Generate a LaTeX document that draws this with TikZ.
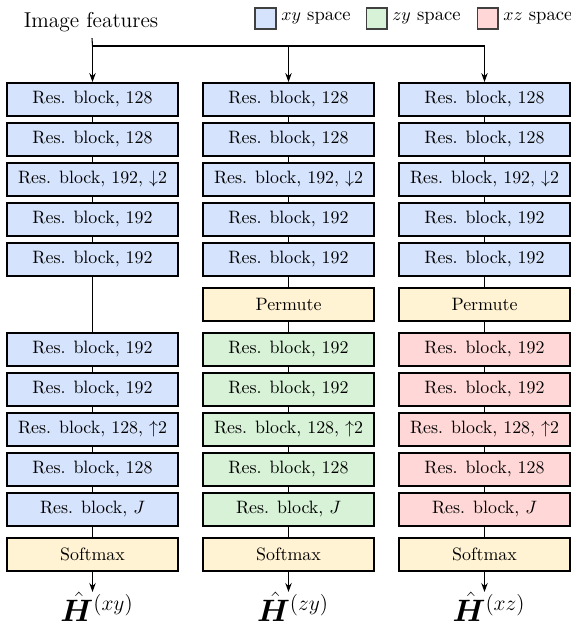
\documentclass[tikz,border=0pt]{standalone}
\usepackage{bm}
\usetikzlibrary{arrows.meta}
\definecolor{cxy}{HTML}{D5E3FC}
\definecolor{czy}{HTML}{D7F2D7}
\definecolor{cxz}{HTML}{FFD7D7}
\definecolor{cop}{HTML}{FFF3D3}
\begin{document}
\begin{tikzpicture}[x=0.5587pt,y=-0.5587pt,
  blk/.style={draw=black, line width=1.1pt, minimum width=95.5pt, minimum height=18.4pt, inner sep=0pt, font=\normalsize},
  xyb/.style={blk, fill=cxy},
  zyb/.style={blk, fill=czy},
  xzb/.style={blk, fill=cxz},
  opb/.style={blk, fill=cop},
  lgd/.style={draw=black!75, line width=0.6pt, minimum width=11.7pt, minimum height=11.7pt, inner sep=0pt},
  lgt/.style={anchor=west, font=\fontsize{10.4}{12}\selectfont, inner sep=0pt},
  outl/.style={font=\LARGE, inner sep=0pt},
  conn/.style={line width=0.6pt},
  arr/.style={line width=0.6pt, -{Stealth[length=5pt,width=3.6pt]}}]
\useasboundingbox (0,0) rectangle (570,628);

% title and legend
\node[font=\large] (img) at (91,22) {Image features};
\node[lgd, fill=cxy] (l1) at (265.5,18.5) {};
\node[lgt] (t1) at (281,18.5) {$xy$ space};
\node[lgd, fill=czy] (l2) at (376.5,18.5) {};
\node[lgt] (t2) at (392,18.5) {$zy$ space};
\node[lgd, fill=cxz] (l3) at (487.5,18.5) {};
\node[lgt] (t3) at (503,18.5) {$xz$ space};

% column 1
\node[xyb] (a1) at (92.5,99.5) {Res. block, 128};
\node[xyb] (a2) at (92.5,139.5) {Res. block, 128};
\node[xyb] (a3) at (92.5,179.5) {Res. block, 192, $\downarrow$2};
\node[xyb] (a4) at (92.5,219.5) {Res. block, 192};
\node[xyb] (a5) at (92.5,259.5) {Res. block, 192};
\node[xyb] (a7) at (92.5,349.5) {Res. block, 192};
\node[xyb] (a8) at (92.5,389.5) {Res. block, 192};
\node[xyb] (a9) at (92.5,429.5) {Res. block, 128, $\uparrow$2};
\node[xyb] (a10) at (92.5,469.5) {Res. block, 128};
\node[xyb] (a11) at (92.5,509.5) {Res. block, $J$};
\node[opb] (a12) at (92.5,554.5) {Softmax};

% column 2
\node[xyb] (b1) at (288.5,99.5) {Res. block, 128};
\node[xyb] (b2) at (288.5,139.5) {Res. block, 128};
\node[xyb] (b3) at (288.5,179.5) {Res. block, 192, $\downarrow$2};
\node[xyb] (b4) at (288.5,219.5) {Res. block, 192};
\node[xyb] (b5) at (288.5,259.5) {Res. block, 192};
\node[opb] (b6) at (288.5,304.5) {Permute};
\node[zyb] (b7) at (288.5,349.5) {Res. block, 192};
\node[zyb] (b8) at (288.5,389.5) {Res. block, 192};
\node[zyb] (b9) at (288.5,429.5) {Res. block, 128, $\uparrow$2};
\node[zyb] (b10) at (288.5,469.5) {Res. block, 128};
\node[zyb] (b11) at (288.5,509.5) {Res. block, $J$};
\node[opb] (b12) at (288.5,554.5) {Softmax};

% column 3
\node[xyb] (c1) at (484.5,99.5) {Res. block, 128};
\node[xyb] (c2) at (484.5,139.5) {Res. block, 128};
\node[xyb] (c3) at (484.5,179.5) {Res. block, 192, $\downarrow$2};
\node[xyb] (c4) at (484.5,219.5) {Res. block, 192};
\node[xyb] (c5) at (484.5,259.5) {Res. block, 192};
\node[opb] (c6) at (484.5,304.5) {Permute};
\node[xzb] (c7) at (484.5,349.5) {Res. block, 192};
\node[xzb] (c8) at (484.5,389.5) {Res. block, 192};
\node[xzb] (c9) at (484.5,429.5) {Res. block, 128, $\uparrow$2};
\node[xzb] (c10) at (484.5,469.5) {Res. block, 128};
\node[xzb] (c11) at (484.5,509.5) {Res. block, $J$};
\node[opb] (c12) at (484.5,554.5) {Softmax};

% outputs
\node[outl] (oa) at (97,607) {$\hat{\bm{H}}^{(xy)}$};
\node[outl] (ob) at (293,607) {$\hat{\bm{H}}^{(zy)}$};
\node[outl] (oc) at (489,607) {$\hat{\bm{H}}^{(xz)}$};

% input split
\coordinate (sp) at (92.5,46);
\draw[conn] (img) -- (sp);
\draw[arr] (sp) -- (a1);
\draw[arr] (sp) -| (b1);
\draw[arr] (sp) -| (c1);

% chains
\foreach \i/\j in {1/2,2/3,3/4,4/5,5/7,7/8,8/9,9/10,10/11,11/12}
  \draw[conn] (a\i) -- (a\j);
\foreach \i/\j in {1/2,2/3,3/4,4/5,5/6,6/7,7/8,8/9,9/10,10/11,11/12}{
  \draw[conn] (b\i) -- (b\j);
  \draw[conn] (c\i) -- (c\j);
}
\draw[arr] (a12.south) -- (a12.south |- oa.north);
\draw[arr] (b12.south) -- (b12.south |- ob.north);
\draw[arr] (c12.south) -- (c12.south |- oc.north);
\end{tikzpicture}
\end{document}
